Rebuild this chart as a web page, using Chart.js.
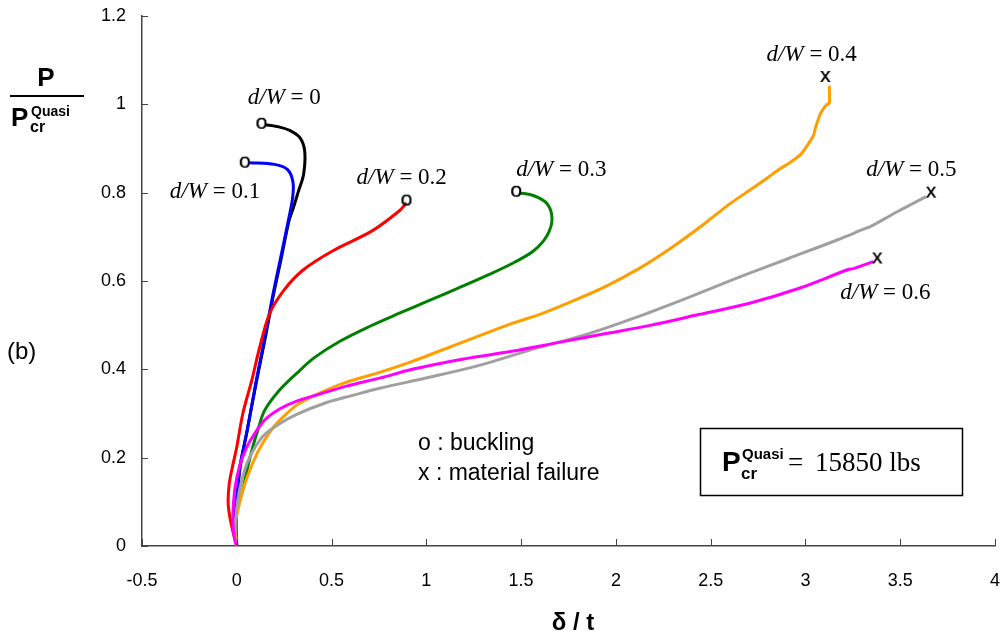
<!DOCTYPE html>
<html>
<head>
<meta charset="utf-8">
<script src="https://cdn.jsdelivr.net/npm/chart.js@4.4.1/dist/chart.umd.min.js"></script>
<style>
  html, body { margin: 0; padding: 0; background: #fff; }
  canvas { display: block; }
</style>
</head>
<body>
<canvas id="chart" width="1005" height="642"></canvas>
<script>
// load–displacement curves, one pair of arrays per hole size d/W
const dw0X = [0, -0.01, 0.005, 0.018, 0.055, 0.105, 0.148, 0.195, 0.232, 0.276, 0.298, 0.323, 0.353, 0.358, 0.332, 0.279, 0.211, 0.15];
const dw0Y = [0, 0.06, 0.127, 0.179, 0.262, 0.375, 0.466, 0.572, 0.646, 0.737, 0.765, 0.8, 0.843, 0.895, 0.925, 0.941, 0.95, 0.954];

const dw1X = [0, -0.01, 0.005, 0.016, 0.055, 0.103, 0.145, 0.192, 0.228, 0.272, 0.295, 0.296, 0.268, 0.2, 0.068];
const dw1Y = [0, 0.06, 0.127, 0.179, 0.262, 0.375, 0.466, 0.572, 0.646, 0.737, 0.79, 0.825, 0.852, 0.864, 0.868];

const dw2X = [0, -0.026, -0.045, -0.04, -0.021, 0, 0.032, 0.079, 0.121, 0.174, 0.25, 0.35, 0.505, 0.716, 0.858, 0.895];
const dw2Y = [0, 0.043, 0.093, 0.14, 0.183, 0.224, 0.3, 0.375, 0.45, 0.527, 0.58, 0.625, 0.668, 0.714, 0.759, 0.777];

const dw3X = [0, 0, 0.032, 0.058, 0.084, 0.111, 0.147, 0.226, 0.316, 0.411, 0.542, 0.7, 0.858, 1.016, 1.174, 1.332, 1.463, 1.568, 1.637, 1.663, 1.637, 1.568, 1.489];
const dw3Y = [0, 0.075, 0.127, 0.179, 0.224, 0.262, 0.307, 0.353, 0.391, 0.427, 0.463, 0.497, 0.527, 0.556, 0.585, 0.615, 0.642, 0.669, 0.703, 0.741, 0.775, 0.793, 0.8];

const dw4X = [0, -0.011, 0, 0.032, 0.084, 0.137, 0.211, 0.316, 0.437, 0.579, 0.753, 0.926, 1.189, 1.453, 1.595, 1.768, 1.947, 2.121, 2.295, 2.474, 2.595, 2.711, 2.795, 2.858, 2.911, 2.974, 3.016, 3.042, 3.053, 3.079, 3.111, 3.126, 3.126];
const dw4Y = [0, 0.047, 0.07, 0.127, 0.188, 0.233, 0.278, 0.319, 0.346, 0.371, 0.393, 0.418, 0.461, 0.504, 0.524, 0.554, 0.588, 0.628, 0.676, 0.732, 0.773, 0.807, 0.832, 0.852, 0.866, 0.886, 0.911, 0.929, 0.947, 0.979, 0.999, 1.003, 1.042];

const dw5X = [0, -0.01, 0, 0.026, 0.068, 0.137, 0.211, 0.316, 0.474, 0.611, 0.753, 1.016, 1.279, 1.542, 1.858, 2.121, 2.384, 2.647, 2.911, 3.174, 3.316, 3.342, 3.489, 3.637];
const dw5Y = [0, 0.02, 0.088, 0.149, 0.201, 0.248, 0.273, 0.298, 0.325, 0.341, 0.357, 0.382, 0.409, 0.443, 0.481, 0.52, 0.563, 0.608, 0.651, 0.694, 0.719, 0.723, 0.758, 0.791];

const dw6X = [0, -0.011, -0.021, -0.011, 0.016, 0.053, 0.095, 0.147, 0.226, 0.316, 0.437, 0.579, 0.753, 0.926, 1.189, 1.453, 1.7, 1.947, 2.174, 2.437, 2.7, 2.963, 3.226, 3.253, 3.332, 3.358];
const dw6Y = [0, 0.014, 0.059, 0.127, 0.183, 0.224, 0.255, 0.285, 0.31, 0.328, 0.344, 0.362, 0.38, 0.4, 0.423, 0.441, 0.461, 0.481, 0.499, 0.524, 0.549, 0.583, 0.626, 0.628, 0.64, 0.644];

// end points: buckling (o) and material failure (x)
const bucklingX = [0.13, 0.042, 0.895, 1.474];
const bucklingY = [0.956, 0.868, 0.782, 0.802];
const failureX = [3.105, 3.663, 3.379];
const failureY = [1.062, 0.8, 0.651];

const xTicks = [-0.5, 0, 0.5, 1, 1.5, 2, 2.5, 3, 3.5, 4];
const yTicks = [0, 0.2, 0.4, 0.6, 0.8, 1, 1.2];

const curveLabels = [
  { value: '0', x: 0.058, y: 1.001 },
  { value: '0.1', x: -0.353, y: 0.789 },
  { value: '0.2', x: 0.632, y: 0.82 },
  { value: '0.3', x: 1.474, y: 0.838 },
  { value: '0.4', x: 2.795, y: 1.098 },
  { value: '0.5', x: 3.321, y: 0.838 },
  { value: '0.6', x: 3.184, y: 0.56 },
];

const SANS = '"Liberation Sans", Arial, sans-serif';
const SERIF = '"Liberation Serif", "Times New Roman", serif';

const pts = (xs, ys) => xs.map((x, i) => ({ x, y: ys[i] }));

function glyph(ch) {
  const c = document.createElement('canvas');
  c.width = 18; c.height = 18;
  const g = c.getContext('2d');
  g.font = '21px ' + SANS;
  g.textAlign = 'center';
  g.textBaseline = 'alphabetic';
  g.fillStyle = '#000';
  g.fillText(ch, 9, 14);
  g.fillText(ch, 9, 14);
  return c;
}

function curve(xs, ys, color, tension) {
  return {
    data: pts(xs, ys),
    borderColor: color,
    backgroundColor: color,
    borderWidth: 3,
    pointRadius: 0,
    tension: tension,
    showLine: true,
    fill: false,
  };
}

// inward tick marks, labels, axis titles and the note box
const decorations = {
  id: 'decorations',
  afterDraw(chart) {
    const { ctx, chartArea: a, scales: { x, y } } = chart;
    ctx.save();
    ctx.strokeStyle = '#444';
    ctx.lineWidth = 1;
    xTicks.forEach(v => {
      const px = Math.round(x.getPixelForValue(v)) + 0.5;
      ctx.beginPath(); ctx.moveTo(px, a.bottom); ctx.lineTo(px, a.bottom - 7); ctx.stroke();
    });
    yTicks.forEach(v => {
      const py = Math.round(y.getPixelForValue(v)) + 0.5;
      ctx.beginPath(); ctx.moveTo(a.left, py); ctx.lineTo(a.left + 6, py); ctx.stroke();
    });

    // d/W labels
    ctx.fillStyle = '#000';
    ctx.textBaseline = 'alphabetic';
    ctx.textAlign = 'left';
    curveLabels.forEach(l => {
      let px = x.getPixelForValue(l.x);
      const py = y.getPixelForValue(l.y);
      ctx.font = 'italic 23px ' + SERIF;
      ctx.fillText('d/W', px, py);
      px += ctx.measureText('d/W').width;
      ctx.font = '23px ' + SERIF;
      ctx.fillText(' = ' + l.value, px, py);
    });

    // x title
    ctx.font = 'bold 24px ' + SANS;
    ctx.textAlign = 'center';
    ctx.fillText('\u03b4 / t', 573, 630);

    // y title as a fraction
    ctx.font = 'bold 26px ' + SANS;
    ctx.fillText('P', 46, 86);
    ctx.fillRect(10, 95, 74, 2);
    ctx.textAlign = 'left';
    ctx.fillText('P', 11, 126);
    ctx.font = 'bold 14px ' + SANS;
    ctx.fillText('Quasi', 31, 116);
    ctx.font = 'bold 16px ' + SANS;
    ctx.fillText('cr', 30, 132);

    // panel tag
    ctx.font = '24px ' + SANS;
    ctx.fillText('(b)', 7, 359);

    // marker legend
    ctx.font = '23px ' + SANS;
    ctx.fillText('o : buckling', 418, 450);
    ctx.fillText('x : material failure', 418, 480);

    // reference load box
    ctx.lineWidth = 1.5;
    ctx.strokeStyle = '#000';
    ctx.strokeRect(700.5, 428.5, 262, 67);
    ctx.font = 'bold 28px ' + SANS;
    ctx.fillText('P', 722, 471);
    ctx.font = 'bold 15px ' + SANS;
    ctx.fillText('Quasi', 742, 459);
    ctx.font = 'bold 17px ' + SANS;
    ctx.fillText('cr', 741, 479);
    ctx.font = '27px ' + SERIF;
    ctx.fillText('=', 788, 471);
    ctx.fillText('15850 lbs', 815, 471);
    ctx.restore();
  }
};

new Chart(document.getElementById('chart'), {
  type: 'scatter',
  data: {
    datasets: [
      {
        data: pts(bucklingX, bucklingY),
        pointStyle: glyph('o'),
        pointRadius: 9,
        showLine: false,
      },
      {
        data: pts(failureX, failureY),
        pointStyle: glyph('x'),
        pointRadius: 9,
        showLine: false,
      },
      curve(dw6X, dw6Y, '#FF00FF', 0.35),
      curve(dw5X, dw5Y, '#A0A0A0', 0.35),
      curve(dw4X, dw4Y, '#FF9E00', 0.2),
      curve(dw3X, dw3Y, '#008000', 0.35),
      curve(dw2X, dw2Y, '#FF0000', 0.35),
      curve(dw1X, dw1Y, '#0000FF', 0.35),
      curve(dw0X, dw0Y, '#000000', 0.35),
    ],
  },
  options: {
    responsive: false,
    animation: false,
    devicePixelRatio: 1,
    layout: { padding: { top: 16, right: 8, left: 0, bottom: 0 } },
    plugins: {
      legend: { display: false },
      tooltip: { enabled: false },
    },
    scales: {
      x: {
        type: 'linear',
        min: -0.5,
        max: 4,
        afterFit: s => { s.height = 96; s.paddingLeft = 0; s.paddingRight = 0; },
        afterBuildTicks: s => { s.ticks = xTicks.map(v => ({ value: v })); },
        grid: { display: false, drawTicks: false },
        border: { display: true, color: '#444', width: 1.5 },
        ticks: {
          color: '#000',
          font: { family: SANS, size: 18 },
          padding: 24,
          maxRotation: 0,
          callback: v => String(Number(v.toFixed(1))),
        },
      },
      y: {
        type: 'linear',
        min: 0,
        max: 1.2,
        afterFit: s => { s.width = 142; s.paddingTop = 0; s.paddingBottom = 0; },
        afterBuildTicks: s => { s.ticks = yTicks.map(v => ({ value: v })); },
        grid: { display: false, drawTicks: false },
        border: { display: true, color: '#444', width: 1.5 },
        ticks: {
          color: '#000',
          font: { family: SANS, size: 18 },
          padding: 16,
          callback: v => String(Number(v.toFixed(1))),
        },
      },
    },
  },
  plugins: [decorations],
});
</script>
</body>
</html>
